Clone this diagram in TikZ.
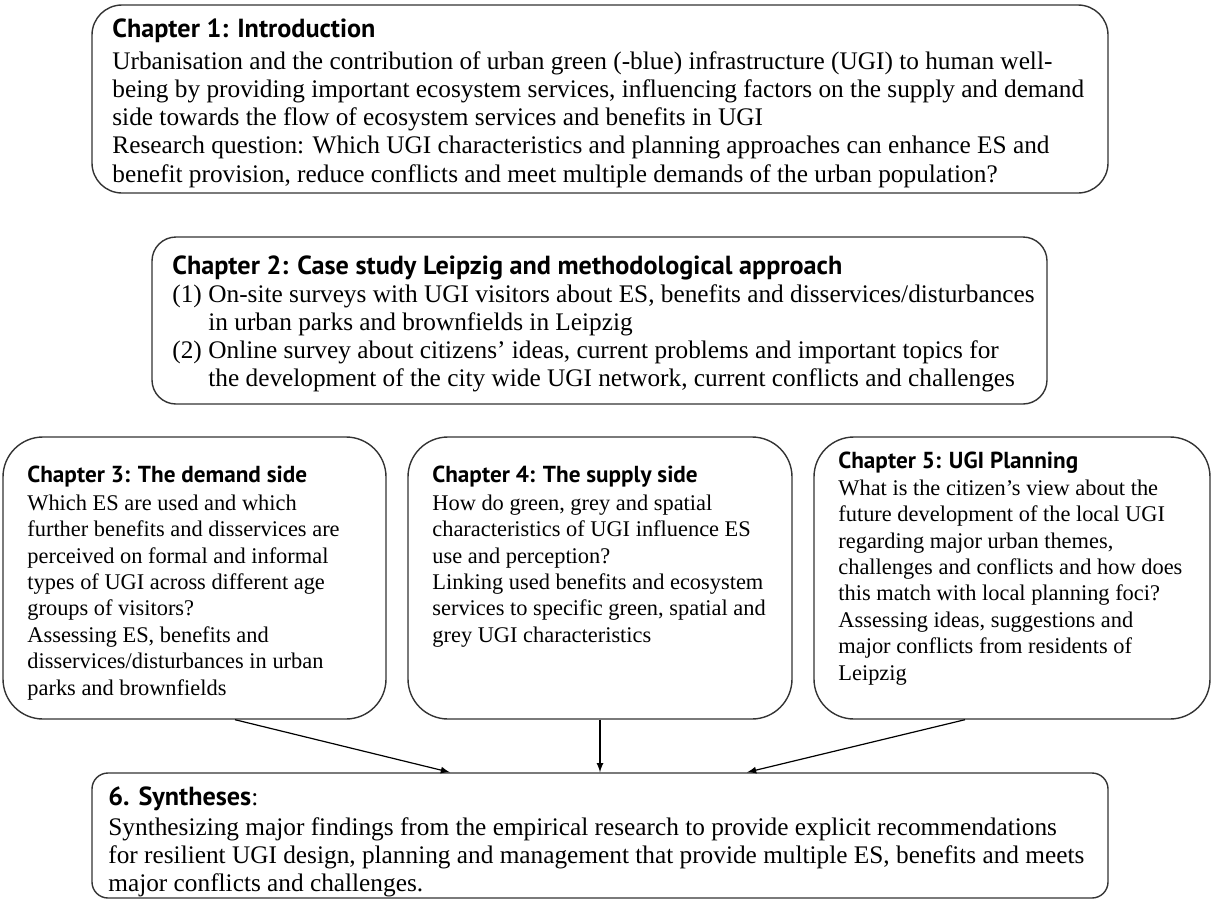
\documentclass[tikz,border=0pt]{standalone}
\usepackage{fontspec}
\setmainfont{Liberation Serif}
\newfontfamily\headfont[Scale=1.035]{PT Sans}
\usetikzlibrary{arrows,positioning,fit}
\tikzstyle{chbox} = [rectangle, draw=black!80, line width=0.7pt, inner sep=0pt, rounded corners=20pt]
\tikzstyle{chtext} = [align=left, anchor=north west, inner sep=0pt, font=\fontsize{12.65}{14.1}\selectfont]
\tikzstyle{chsmall} = [chtext, font=\fontsize{11.2}{13.2}\selectfont]
\tikzstyle{line} = [draw, -latex, line width=0.6pt]
\newcommand{\chhead}[1]{{\headfont\bfseries #1}}
\newcommand{\itm}[1]{\makebox[18pt][l]{#1}}

\begin{document}
\begin{tikzpicture}[x=0.5pt, y=-0.5pt]
        \useasboundingbox (0,0) rectangle (1212,900);
        % boxes
        \node[chbox, rounded corners=15pt, fit={(92,5) (1108,193)}]   (ch1) {};
        \node[chbox, rounded corners=12pt, fit={(152,237) (1047,404)}] (ch2) {};
        \node[chbox, fit={(3,437) (386,719)}]                          (ch3) {};
        \node[chbox, fit={(408,437) (792,719)}]                        (ch4) {};
        \node[chbox, fit={(814,437) (1210,719)}]                       (ch5) {};
        \node[chbox, rounded corners=8pt, fit={(92,773) (1108,898)}]   (ch6) {};

        % texts
        \node[chtext] (ch1txt) at (112,18) {\chhead{Chapter 1: Introduction}\\[2pt]
            Urbanisation and the contribution of urban green (-blue) infrastructure (UGI) to human well-\\
            being by providing important ecosystem services, influencing factors on the supply and demand\\
            side towards the flow of ecosystem services and benefits in UGI\\
            Research question: Which UGI characteristics and planning approaches can enhance ES and\\
            benefit provision, reduce conflicts and meet multiple demands of the urban population?};
        \node[chtext] (ch2txt) at (172,255) {\chhead{Chapter 2: Case study Leipzig and methodological approach}\\
            \itm{(1)}On-site surveys with UGI visitors about ES, benefits and disservices/disturbances\\
            \itm{}in urban parks and brownfields in Leipzig\\
            \itm{(2)}Online survey about citizens' ideas, current problems and important topics for\\
            \itm{}the development of the city wide UGI network, current conflicts and challenges};
        \node[chsmall] (ch3txt) at (27,466) {\chhead{Chapter 3: The demand side}\\[0.5pt]
            Which ES are used and which\\
            further benefits and disservices are\\
            perceived on formal and informal\\
            types of UGI across different age\\
            groups of visitors?\\
            Assessing ES, benefits and\\
            disservices/disturbances in urban\\
            parks and brownfields};
        \node[chsmall] (ch4txt) at (432,466) {\chhead{Chapter 4: The supply side}\\[0.5pt]
            How do green, grey and spatial\\
            characteristics of UGI influence ES\\
            use and perception?\\
            Linking used benefits and ecosystem\\
            services to specific green, spatial and\\
            grey UGI characteristics};
        \node[chsmall] (ch5txt) at (838,452) {\chhead{Chapter 5: UGI Planning}\\
            What is the citizen's view about the\\
            future development of the local UGI\\
            regarding major urban themes,\\
            challenges and conflicts and how does\\
            this match with local planning foci?\\
            Assessing ideas, suggestions and\\
            major conflicts from residents of\\
            Leipzig};
        \node[chtext] (ch6txt) at (108,786) {\chhead{6. Syntheses}:\\[1pt]
            Synthesizing major findings from the empirical research to provide explicit recommendations\\
            for resilient UGI design, planning and management that provide multiple ES, benefits and meets\\
            major conflicts and challenges.};

        % arrows
        \path[line] ([xshift=20.25pt]ch3.south) -- ([xshift=-75pt]ch6.north);
        \path[line] (ch4.south) -- (ch6.north);
        \path[line] ([xshift=-23.5pt]ch5.south) -- ([xshift=73.5pt]ch6.north);
\end{tikzpicture}
\end{document}
